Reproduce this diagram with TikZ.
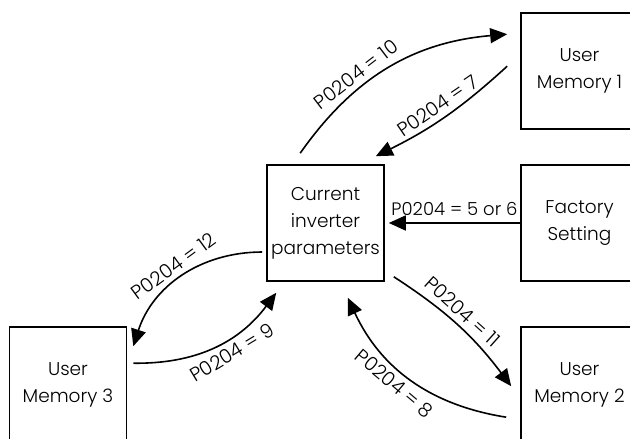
\documentclass[tikz,border=0pt]{standalone}
\usepackage{fontspec}
\IfFontExistsTF{Poppins Light}{\setmainfont{Poppins Light}}{\setmainfont{Poppins}}
\usetikzlibrary{arrows.meta}
\tikzstyle{box}=[draw, line width=1.6pt, minimum width=117pt, minimum height=116pt, align=center, inner sep=0pt, font=\fontsize{18.5}{27}\selectfont]
\tikzstyle{arrow}=[draw=black, line width=1.6pt, -{Triangle[length=17pt,width=15pt]}]
\tikzstyle{lab}=[font=\fontsize{19.5}{21}\selectfont, sloped, inner sep=5.5pt]

\begin{document}
\begin{tikzpicture}[x=1pt, y=1pt]
		   \useasboundingbox (0,0) rectangle (630,439);
		   \clip (0,0) rectangle (630,439);
		   \begin{scope}
			   \node (cur) at (325.5, 216)[box] {Current\\inverter\\parameters};
			   \node (um1) at (579.5, 368)[box] {User\\Memory 1};
			   \node (fac) at (579.5, 216)[box] {Factory\\Setting};
			   \node (um2) at (579.5, 54)[box] {User\\Memory 2};
			   \node (um3) at (68, 54)[box] {User\\Memory 3};
		   \end{scope}
		   \begin{scope}
			   \draw [arrow] ([shift={(34,11)}]cur.north west) to[bend left=25] node[lab, above, pos=.37] {P0204 = 10} ([shift={(-13,-22)}]um1.north west);
			   \draw [arrow] ([shift={(-13,-54)}]um1.north west) to[bend left=8] node[lab, above, pos=.5] {P0204 = 7} ([shift={(-9,8)}]cur.north east);
			   \draw [arrow] (fac.west) to node[lab, font=\fontsize{18}{20}\selectfont, above, inner sep=7pt, pos=.5] {P0204 = 5 or 6} ([xshift=4pt]cur.east);
			   \draw [arrow] ([shift={(9,5)}]cur.south east) to[bend left=10] node[lab, above, pos=.46] {P0204 = 11} ([shift={(-9,-60)}]um2.north west);
			   \draw [arrow] ([shift={(-14,-91)}]um2.north west) to[bend left=28] node[lab, below, pos=.55] {P0204 = 8} ([shift={(-37,-16)}]cur.south east);
			   \draw [arrow] ([shift={(-4,-29)}]cur.west) to[bend right=36] node[lab, above, pos=.5] {P0204 = 12} ([shift={(6,-20)}]um3.north east);
			   \draw [arrow] ([shift={(6,-37)}]um3.north east) to[bend right=27] node[lab, below, pos=.58] {P0204 = 9} ([shift={(10,-11)}]cur.south west);
		   \end{scope}
	   \end{tikzpicture}
\end{document}
